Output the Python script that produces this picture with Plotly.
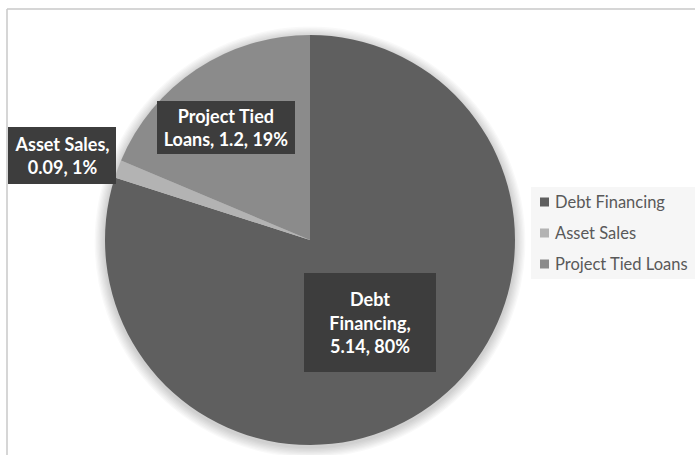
import math
import plotly.graph_objects as go

W, H = 695, 455

labels = ["Debt Financing", "Asset Sales", "Project Tied Loans"]
values = [5.14, 0.09, 1.2]
label_texts = ["Debt<br>Financing,<br>5.14, 80%", "Asset Sales,<br>0.09, 1%", "Project Tied<br>Loans, 1.2, 19%"]
colors = ["#5f5f5f", "#b3b3b3", "#8b8b8b"]

# label style: distance from centre (in radii), angle tweak (deg), box size (px)
label_radius = [0.50, 1.28, 0.685]
label_angle_adj = [0.0, 1.4, 3.1]
label_box = [(128, 95), (104, 53), (134, 49)]

# pie geometry (pixels)
cx, cy, R = 310, 240, 205

fig = go.Figure()

# soft shadow around the pie
for i in range(1, 9):
    r = R + i * 1.3
    fig.add_shape(type="circle", xref="paper", yref="paper", layer="below",
                  x0=(cx - r) / W, x1=(cx + r) / W,
                  y0=1 - (cy + 2 + r) / H, y1=1 - (cy + 2 - r) / H,
                  fillcolor="black", opacity=0.025, line=dict(width=0))

fig.add_trace(go.Pie(
    labels=labels, values=values, sort=False, direction="clockwise", rotation=0,
    marker=dict(colors=colors, line=dict(width=0)),
    textinfo="none", hoverinfo="label+value+percent", showlegend=False,
    domain=dict(x=[(cx - R) / W, (cx + R) / W], y=[1 - (cy + R) / H, 1 - (cy - R) / H]),
))

# data labels positioned from slice mid-angles
total = sum(values)
cum = 0
for v, txt, rf, adj, (bw, bh) in zip(values, label_texts, label_radius, label_angle_adj, label_box):
    mid = (cum + v / 2) / total
    cum += v
    ang = math.radians(90 - 360 * mid + adj)
    px = cx + rf * R * math.cos(ang)
    py = cy - rf * R * math.sin(ang)
    fig.add_annotation(x=px / W, y=1 - py / H, xref="paper", yref="paper", text=txt,
                       xanchor="center", yanchor="middle",
                       showarrow=False, align="center", valign="middle",
                       width=bw, height=bh,
                       font=dict(family="Lato", size=18, color="white", weight="bold"),
                       bgcolor="#3d3d3d", borderpad=2, borderwidth=0)

# legend (drawn manually to match spacing)
lg_x0, lg_y0, lg_y1 = 531, 187, 279
row_y = [202, 233, 264]
fig.add_shape(type="rect", xref="paper", yref="paper", x0=lg_x0 / W, x1=1,
              y0=1 - lg_y1 / H, y1=1 - lg_y0 / H, fillcolor="#f6f6f6", line=dict(width=0))
for lab, col, ry in zip(labels, colors, row_y):
    fig.add_shape(type="rect", xref="paper", yref="paper",
                  x0=540 / W, x1=549 / W, y0=1 - (ry + 4.5) / H, y1=1 - (ry - 4.5) / H,
                  fillcolor=col, line=dict(width=0))
    fig.add_annotation(x=553 / W, y=1 - ry / H, xref="paper", yref="paper", text=lab,
                       xanchor="left", yanchor="middle", showarrow=False,
                       font=dict(family="Lato", size=16.5, color="#595959"))

# chart border (left & top visible)
fig.add_shape(type="line", xref="paper", yref="paper", x0=7 / W, x1=7 / W, y0=0, y1=1 - 9 / H,
              line=dict(color="#c8c8c8", width=1.5))
fig.add_shape(type="line", xref="paper", yref="paper", x0=7 / W, x1=1, y0=1 - 9 / H, y1=1 - 9 / H,
              line=dict(color="#c8c8c8", width=1.5))

fig.update_layout(
    width=W, height=H, margin=dict(l=0, r=0, t=0, b=0),
    paper_bgcolor="white", plot_bgcolor="white", showlegend=False,
)

fig.write_html("out.html")
